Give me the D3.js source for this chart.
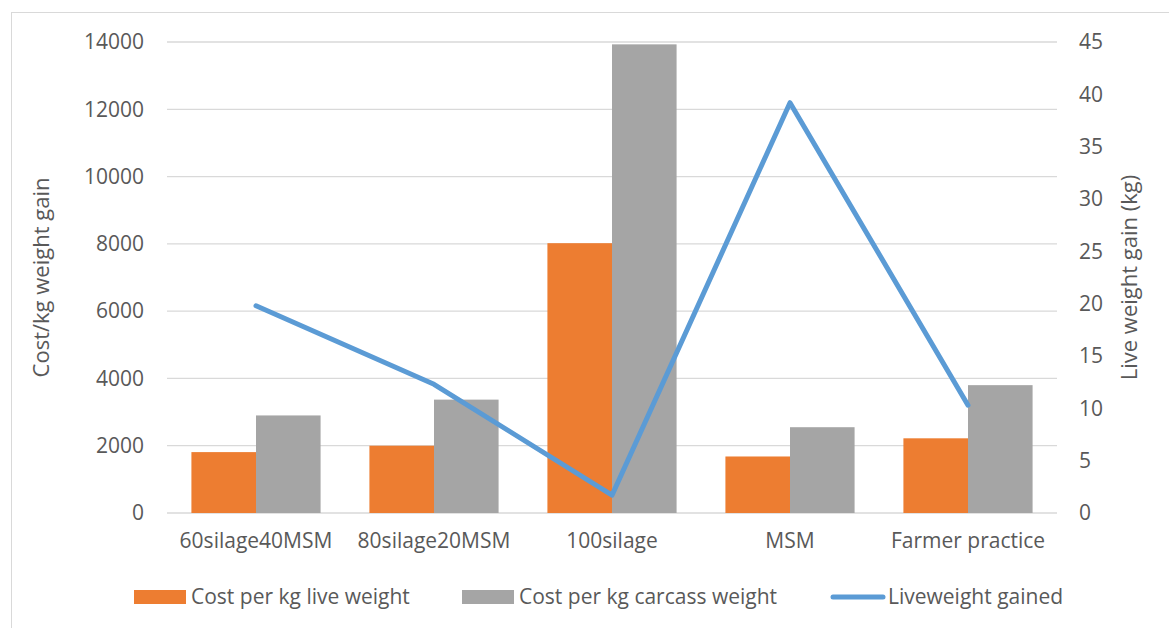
<!DOCTYPE html>
<html>
<head>
<meta charset="utf-8">
<script src="https://cdn.jsdelivr.net/npm/d3@7"></script>
<style>
  body { margin: 0; background: #fff; }
  text { font-family: "Open Sans", sans-serif; fill: #595959; }
</style>
</head>
<body>
<div id="chart"></div>
<script>
const categories = ["60silage40MSM", "80silage20MSM", "100silage", "MSM", "Farmer practice"];
const costLive = [1810, 2000, 8020, 1680, 2220];
const costCarcass = [2900, 3370, 13930, 2550, 3800];
const liveweightGained = [19.8, 12.3, 1.7, 39.2, 10.3];
const leftTicks = [0, 2000, 4000, 6000, 8000, 10000, 12000, 14000];
const rightTicks = [0, 5, 10, 15, 20, 25, 30, 35, 40, 45];

const W = 1169, H = 628;
const m = { left: 167, right: 112, top: 42, bottom: 115 };
const iw = W - m.left - m.right, ih = H - m.top - m.bottom;

const svg = d3.select("#chart").append("svg").attr("width", W).attr("height", H);

// chart border
svg.append("rect").attr("x", 11.5).attr("y", 12.5).attr("width", W + 10).attr("height", H + 10)
  .attr("fill", "none").attr("stroke", "#d9d9d9");

const g = svg.append("g").attr("transform", `translate(${m.left},${m.top})`);

const x = d3.scaleBand().domain(categories).range([0, iw]).paddingInner(0).paddingOuter(0);
const sub = d3.scaleBand().domain(["live", "carcass"]).range([0, x.bandwidth()]).paddingInner(0).paddingOuter(0.378);
const y = d3.scaleLinear().domain([0, 14000]).range([ih, 0]);
const y2 = d3.scaleLinear().domain([0, 45]).range([ih, 0]);

// gridlines
g.append("g").selectAll("line").data(leftTicks).join("line")
  .attr("x1", 0).attr("x2", iw).attr("y1", d => y(d)).attr("y2", d => y(d))
  .attr("stroke", "#d9d9d9").attr("stroke-width", 1.3);

// left axis
const yAxis = g.append("g").call(d3.axisLeft(y).tickValues(leftTicks).tickFormat(d3.format("d")).tickSize(0).tickPadding(23));
yAxis.select(".domain").remove();
yAxis.selectAll("text").style("font-size", "21px").attr("fill", "#595959");

// right axis
const yAxis2 = g.append("g").attr("transform", `translate(${iw},0)`)
  .call(d3.axisRight(y2).tickValues(rightTicks).tickSize(0).tickPadding(22));
yAxis2.select(".domain").remove();
yAxis2.selectAll("text").style("font-size", "21px").attr("fill", "#595959");

// bars
const groups = g.append("g").selectAll("g").data(categories).join("g")
  .attr("transform", d => `translate(${x(d)},0)`);
groups.append("rect")
  .attr("x", sub("live")).attr("width", sub.bandwidth())
  .attr("y", (d, i) => y(costLive[i])).attr("height", (d, i) => ih - y(costLive[i]))
  .attr("fill", "#ed7d31");
groups.append("rect")
  .attr("x", sub("carcass")).attr("width", sub.bandwidth())
  .attr("y", (d, i) => y(costCarcass[i])).attr("height", (d, i) => ih - y(costCarcass[i]))
  .attr("fill", "#a5a5a5");

// line
const line = d3.line().x((d, i) => x(categories[i]) + x.bandwidth() / 2).y(d => y2(d));
g.append("path").datum(liveweightGained).attr("d", line)
  .attr("fill", "none").attr("stroke", "#5b9bd5").attr("stroke-width", 5)
  .attr("stroke-linecap", "round").attr("stroke-linejoin", "round");

// x axis labels
const xAxis = g.append("g").attr("transform", `translate(0,${ih})`)
  .call(d3.axisBottom(x).tickSize(0).tickPadding(20));
xAxis.select(".domain").remove();
xAxis.selectAll("text").style("font-size", "21px").attr("fill", "#595959");

// axis titles
svg.append("text").attr("transform", `translate(49,${m.top + ih / 2}) rotate(-90)`)
  .attr("text-anchor", "middle").style("font-size", "22px").text("Cost/kg weight gain");
svg.append("text").attr("transform", `translate(1137,${m.top + ih / 2}) rotate(-90)`)
  .attr("text-anchor", "middle").style("font-size", "22px").text("Live weight gain (kg)");

// legend
const legend = [
  { name: "Cost per kg live weight", type: "rect", color: "#ed7d31", x: 134 },
  { name: "Cost per kg carcass weight", type: "rect", color: "#a5a5a5", x: 462 },
  { name: "Liveweight gained", type: "line", color: "#5b9bd5", x: 831 }
];
const lg = svg.append("g").selectAll("g").data(legend).join("g")
  .attr("transform", d => `translate(${d.x},597)`);
lg.filter(d => d.type === "rect").append("rect")
  .attr("x", 0).attr("y", -7).attr("width", 52).attr("height", 14).attr("fill", d => d.color);
lg.filter(d => d.type === "line").append("line")
  .attr("x1", 2).attr("x2", 52).attr("y1", 0).attr("y2", 0)
  .attr("stroke", d => d.color).attr("stroke-width", 5).attr("stroke-linecap", "round");
lg.append("text").attr("x", 57).attr("y", 0).attr("dy", "0.35em")
  .style("font-size", "21px").text(d => d.name);
</script>
</body>
</html>
